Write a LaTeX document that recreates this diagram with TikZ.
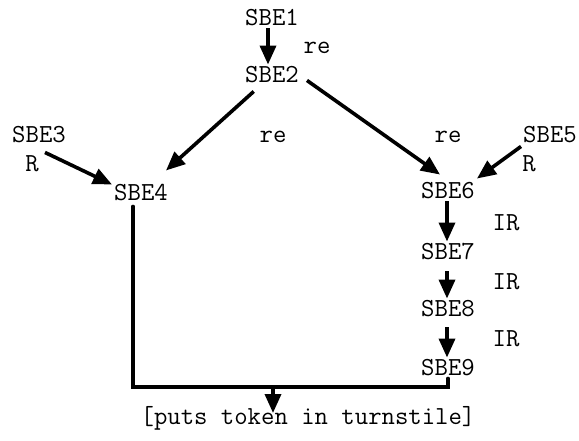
\documentclass[tikz,border=0pt]{standalone}
\usepackage{fontspec}
\usetikzlibrary{arrows.meta}

\begin{document}
\begin{tikzpicture}[x=1pt, y=1pt, >={Triangle[length=19pt,width=16pt]},
  sbe/.style={font=\fontsize{26}{28}\selectfont\ttfamily\addfontfeatures{FakeBold=0.6}, inner sep=2pt},
  lbl/.style={font=\fontsize{26}{28}\selectfont\ttfamily\addfontfeatures{FakeBold=0.6}, inner sep=1pt},
  flow/.style={line width=3.6pt}]
\useasboundingbox (0,0) rectangle (579,-441);
% states
\node[sbe] (s1) at (272,-18) {SBE1};
\node[sbe] (s2) at (272,-75) {SBE2};
\node[sbe] (s3) at (39,-135) {SBE3};
\node[sbe] (s4) at (141,-193) {SBE4};
\node[sbe] (s5) at (550,-135) {SBE5};
\node[sbe] (s6) at (448,-191) {SBE6};
\node[sbe] (s7) at (448,-252) {SBE7};
\node[sbe] (s8) at (448,-309) {SBE8};
\node[sbe] (s9) at (448,-368) {SBE9};
\node[sbe] (turn) at (308,-418) {[puts token in turnstile]};
% edge labels
\node[lbl] (re1) at (317,-48) {re};
\node[lbl] (re2) at (273,-137) {re};
\node[lbl] (re3) at (448,-137) {re};
\node[lbl] (r3) at (32,-164) {R};
\node[lbl] (r5) at (529,-164) {R};
\node[lbl] (ir1) at (506,-223) {IR};
\node[lbl] (ir2) at (506,-282) {IR};
\node[lbl] (ir3) at (506,-339) {IR};
% arrows
\draw[->, flow] ([xshift=-4pt]s1.south) -- ([xshift=-4pt]s2.north);
\draw[->, flow, shorten <=9pt, shorten >=18pt] (s2) -- (s4);
\draw[->, flow] ([xshift=6pt,yshift=5pt]s2.south east) -- ([xshift=-8pt,yshift=6pt]s6.north);
\draw[->, flow] ([xshift=6pt,yshift=-7pt]s3.south) -- ([yshift=-2pt]s4.north west);
\draw[->, flow] ([yshift=-1pt]s5.south west) -- ([yshift=2pt]s6.north east);
\draw[->, flow] ([xshift=-1pt]s6.south) -- ([xshift=-1pt]s7.north);
\draw[->, flow, shorten <=9pt] ([xshift=-1pt]s7.south) -- ([xshift=-1pt]s8.north);
\draw[->, flow, shorten <=8pt] ([xshift=-1pt]s8.south) -- ([xshift=-1pt]s9.north);
% join into the final action
\coordinate (merge) at (273,-387);
\draw[flow, line cap=round] ([xshift=-8pt,yshift=-3pt]s4.south) |- (merge) -| (s9.south);
\draw[->, flow, shorten >=5pt] (merge) -- (merge |- turn.center);
\end{tikzpicture}
\end{document}
